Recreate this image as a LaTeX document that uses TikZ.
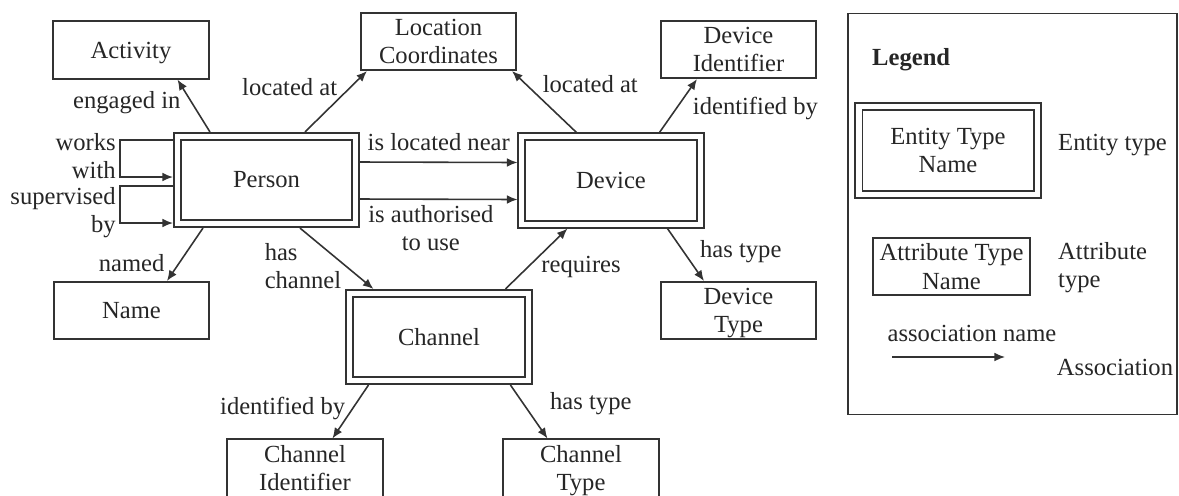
\documentclass[tikz,border=0pt]{standalone}
\usepackage{fontspec}
\setmainfont{Liberation Serif}
\usetikzlibrary{arrows.meta, positioning, calc}

\begin{document}
\begin{tikzpicture}[x=0.02cm, y=-0.02cm,
    font=\fontsize{14}{16}\selectfont,
    every node/.style={text=black!85},
    attr/.style={draw=black!80, line width=0.9pt, minimum width=3.11cm, minimum height=1.15cm, inner sep=0pt, text depth=0pt, align=center},
    entity/.style={draw=black!80, line width=0.9pt, double, double distance=3.1pt, minimum width=3.57cm, minimum height=1.75cm, outer sep=2.45pt, inner sep=0pt, align=center},
    assoc/.style={draw=black!80, line width=0.9pt, -{Latex[length=6pt, width=5pt]}},
    lbl/.style={inner sep=1pt, align=center}]
    \useasboundingbox (0,0) rectangle (1179,495);

    % Define the entity and attribute boxes
    \node[attr] (activity) at (131,50) {Activity};
    \node[attr] (location) at (438.5,41.5) {Location\\Coordinates};
    \node[attr] (devid) at (738.5,49.5) {Device\\Identifier};
    \node[entity] (person) at (266.5,180) {Person};
    \node[entity] (device) at (611,180.5) {Device};
    \node[attr] (name) at (131.5,310.5) {Name};
    \node[attr] (devtype) at (738.5,310.5) {Device\\Type};
    \node[entity] (channel) at (439,337) {Channel};
    \node[attr] (chanid) at (305,468) {Channel\\Identifier};
    \node[attr] (chantype) at (581,468) {Channel\\Type};

    % Draw the associations of the person
    \draw[assoc] ($(person.north west)+(37,0)$) -- ($(activity.south west)+(125,0)$) node[lbl, pos=0.56, left=5pt] {engaged in};
    \draw[assoc] ($(person.north west)+(132,0)$) -- ($(location.south west)+(7,0)$) node[lbl, pos=0.73, left=6pt] {located at};
    \draw[assoc] ($(person.west)+(0,-40)$) -- ++(-53,0) |- node[lbl, pos=0.25, left=1pt, yshift=1.5pt, align=right] {works\\with} ($(person.west)+(0,-3)$);
    \draw[assoc] ($(person.west)+(0,6)$) -- ++(-53,0) |- node[lbl, pos=0.25, left=1pt, yshift=-4.5pt, align=right] {supervised\\by} ($(person.west)+(0,43)$);
    \draw[assoc] ($(person.east)+(0,-18)$) -- ($(device.west)+(0,-18)$) node[lbl, midway, above=5pt] {is located near};
    \draw[assoc] ($(person.east)+(0,19)$) -- ($(device.west)+(0,19)$) node[lbl, pos=0.45, below=2pt] {is authorised\\to use};
    \draw[assoc] ($(person.south west)+(30,0)$) -- ($(name.north west)+(114,0)$) node[lbl, pos=0.66, left=7pt] {named};
    \draw[assoc] ($(person.south west)+(127,0)$) -- ($(channel.north west)+(28,0)$) node[lbl, pos=0.62, left=1pt, align=left] {has\\channel};

    % Draw the associations of the device
    \draw[assoc] ($(device.north west)+(59,0)$) -- ($(location.south east)+(-5,0)$) node[lbl, pos=0.78, right=8pt] {located at};
    \draw[assoc] ($(device.north west)+(142,0)$) -- ($(devid.south west)+(37,0)$) node[lbl, pos=0.45, right=8pt] {identified by};
    \draw[assoc] ($(device.south west)+(150,0)$) -- ($(devtype.north west)+(44,0)$) node[lbl, pos=0.44, right=8pt] {has type};

    % Draw the associations of the channel
    \draw[assoc] ($(channel.north west)+(160,0)$) -- ($(device.south west)+(50,0)$) node[lbl, pos=0.37, right=6pt] {requires};
    \draw[assoc] ($(channel.south west)+(23,0)$) -- ($(chanid.north west)+(106,0)$) node[lbl, pos=0.43, left=3pt] {identified by};
    \draw[assoc] ($(channel.south west)+(165,0)$) -- ($(chantype.north west)+(45,0)$) node[lbl, pos=0.34, right=14pt] {has type};

    % Legend
    \node[draw=black!80, line width=0.9pt, minimum width=6.58cm, minimum height=8.02cm] (legend) at (1012.5,214) {};
    \node[anchor=west] (legendtitle) at (866,60) {\bfseries Legend};
    \node[entity] (entkey) at (948,150.5) {Entity Type\\Name};
    \node[anchor=west] (entlbl) at (1052,145) {Entity type};
    \node[attr, minimum width=3.15cm] (attrkey) at (951.5,266.5) {Attribute Type\\Name};
    \node[anchor=west, align=left] (attrlbl) at (1052,268) {Attribute\\type};
    \node (assoclbl) at (972,333) {association name};
    \coordinate (assocstart) at (892,357);
    \coordinate (assocend) at (1005,357);
    \draw[assoc] (assocstart) -- (assocend);
    \node (assocname) at (1115,367) {Association};
\end{tikzpicture}
\end{document}
